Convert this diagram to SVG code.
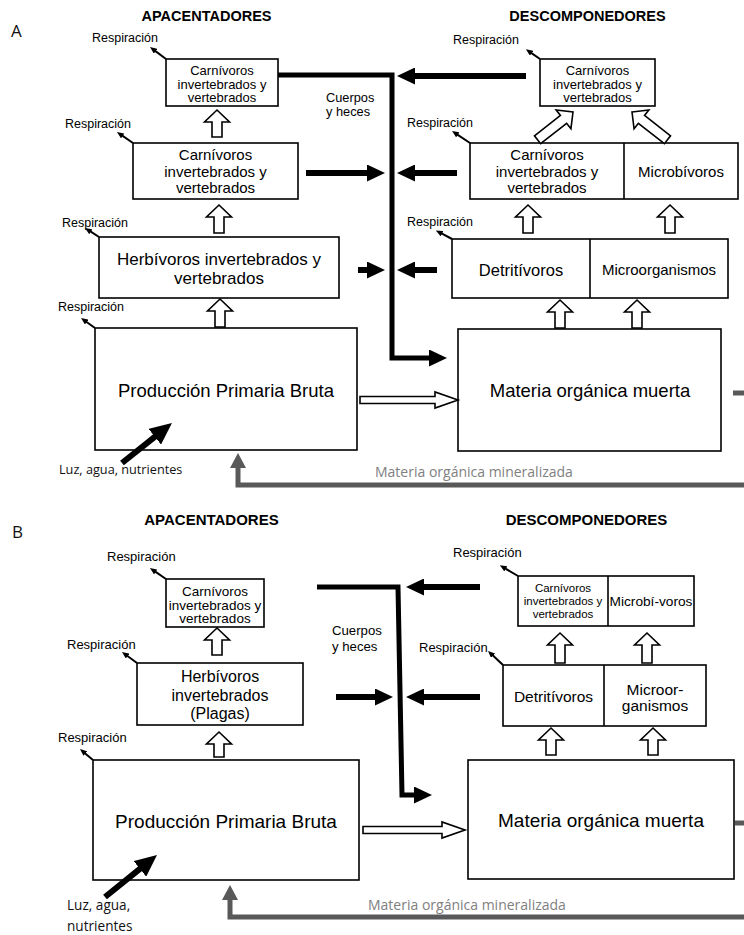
<svg xmlns="http://www.w3.org/2000/svg" width="744" height="935" viewBox="0 0 744 935">
<style>
.bx{fill:#fff;stroke:#000;stroke-width:1.6}
.dv{stroke:#000;stroke-width:1.6}
.t{font-family:"Liberation Sans",Arial,sans-serif;fill:#000;text-anchor:middle}
.r{font-family:"Liberation Sans",Arial,sans-serif;fill:#000}
.h{font-family:"Liberation Sans",Arial,sans-serif;font-weight:bold;fill:#000;text-anchor:middle}
.o{font-family:"Open Sans",sans-serif;fill:#111}
.g{font-family:"Open Sans",sans-serif;fill:#808080;font-size:14px}
.ua{fill:#fff;stroke:#000;stroke-width:1.6;stroke-linejoin:miter}
.bk{fill:none;stroke:#000;stroke-width:6}
.mp{fill:none;stroke:#000;stroke-width:5;stroke-linejoin:miter}
.rs{fill:none;stroke:#000;stroke-width:2}
.gr{fill:none;stroke:#595959;stroke-width:5;stroke-linejoin:miter}
</style>
<defs>
<marker id="ah" markerUnits="userSpaceOnUse" markerWidth="18" markerHeight="17" refX="4" refY="8.5" orient="auto"><path d="M0,0 L18,8.5 L0,17 Z" fill="#000"/></marker>
<marker id="ahs" markerUnits="userSpaceOnUse" markerWidth="7" markerHeight="6" refX="1" refY="3" orient="auto"><path d="M0,0 L7,3 L0,6 Z" fill="#000"/></marker>
<marker id="ahg" markerUnits="userSpaceOnUse" markerWidth="15" markerHeight="16" refX="3" refY="8" orient="auto"><path d="M0,0 L15,8 L0,16 Z" fill="#595959"/></marker>
<marker id="ahl" markerUnits="userSpaceOnUse" markerWidth="22" markerHeight="20" refX="4" refY="10" orient="auto"><path d="M0,0 L22,10 L0,20 Z" fill="#000"/></marker>
</defs>
<rect width="744" height="935" fill="#fff"/>

<!-- Panel labels and headers -->
<g id="labels">
<text class="o" x="11" y="37" font-size="17">A</text>
<text class="h" x="206.5" y="21" font-size="14.5">APACENTADORES</text>
<text class="h" x="587.5" y="21" font-size="14.5">DESCOMPONEDORES</text>
<text class="o" x="12" y="538" font-size="17">B</text>
<text class="h" x="211.5" y="525" font-size="15">APACENTADORES</text>
<text class="h" x="586.5" y="525" font-size="15">DESCOMPONEDORES</text>
</g>

<!-- ===== Panel A nodes ===== -->
<g id="a-carn-top">
<rect class="bx" x="166" y="59" width="112" height="47"/>
<text class="t" font-size="13"><tspan x="222" y="75">Carnívoros</tspan><tspan x="222" y="88.5">invertebrados y</tspan><tspan x="222" y="102">vertebrados</tspan></text>
</g>
<g id="a-carn-mid">
<rect class="bx" x="133" y="143" width="165" height="56"/>
<text class="t" font-size="15"><tspan x="215.5" y="160">Carnívoros</tspan><tspan x="215.5" y="176.5">invertebrados y</tspan><tspan x="215.5" y="193">vertebrados</tspan></text>
</g>
<g id="a-herb">
<rect class="bx" x="99" y="237" width="240" height="61"/>
<text class="t" font-size="17"><tspan x="219" y="265">Herbívoros invertebrados y</tspan><tspan x="219" y="284">vertebrados</tspan></text>
</g>
<g id="a-ppb">
<rect class="bx" x="95" y="328" width="262" height="122"/>
<text class="t" font-size="18.5" x="226" y="397">Producción Primaria Bruta</text>
</g>
<g id="a-mom">
<rect class="bx" x="458" y="329" width="263" height="122"/>
<text class="t" font-size="18.5" x="590" y="397">Materia orgánica muerta</text>
</g>
<g id="a-detr">
<rect class="bx" x="452" y="239" width="276" height="59"/>
<line class="dv" x1="590" y1="239" x2="590" y2="298"/>
<text class="t" font-size="16.5" x="521" y="275.5">Detritívoros</text>
<text class="t" font-size="15" x="659" y="275">Microorganismos</text>
</g>
<g id="a-dcarn-mid">
<rect class="bx" x="470" y="143" width="268" height="56"/>
<line class="dv" x1="624" y1="143" x2="624" y2="199"/>
<text class="t" font-size="15"><tspan x="547" y="160">Carnívoros</tspan><tspan x="547" y="176.5">invertebrados y</tspan><tspan x="547" y="193">vertebrados</tspan></text>
<text class="t" font-size="15" x="681" y="177">Microbívoros</text>
</g>
<g id="a-dcarn-top">
<rect class="bx" x="540" y="59" width="115" height="47"/>
<text class="t" font-size="13"><tspan x="597.5" y="75">Carnívoros</tspan><tspan x="597.5" y="88.5">invertebrados y</tspan><tspan x="597.5" y="102">vertebrados</tspan></text>
</g>

<!-- ===== Panel B nodes ===== -->
<g id="b-carn-top">
<rect class="bx" x="166" y="579" width="98" height="48"/>
<text class="t" font-size="13.5"><tspan x="215" y="596">Carnívoros</tspan><tspan x="215" y="609.5">invertebrados y</tspan><tspan x="215" y="623">vertebrados</tspan></text>
</g>
<g id="b-herb">
<rect class="bx" x="137" y="663" width="166" height="62"/>
<text class="t" font-size="16"><tspan x="220" y="682">Herbívoros</tspan><tspan x="220" y="700.5">invertebrados</tspan><tspan x="220" y="718.5">(Plagas)</tspan></text>
</g>
<g id="b-ppb">
<rect class="bx" x="93" y="760" width="266" height="120"/>
<text class="t" font-size="19" x="226" y="828">Producción Primaria Bruta</text>
</g>
<g id="b-mom">
<rect class="bx" x="468" y="760" width="266" height="119"/>
<text class="t" font-size="19" x="601" y="827">Materia orgánica muerta</text>
</g>
<g id="b-detr">
<rect class="bx" x="503" y="665" width="203" height="61"/>
<line class="dv" x1="604" y1="665" x2="604" y2="726"/>
<text class="t" font-size="15.5" x="553.5" y="701.5">Detritívoros</text>
<text class="t" font-size="15.5"><tspan x="655" y="695">Microor-</tspan><tspan x="655" y="711">ganismos</tspan></text>
</g>
<g id="b-dtop">
<rect class="bx" x="518" y="576" width="176" height="50"/>
<line class="dv" x1="608" y1="576" x2="608" y2="626"/>
<text class="t" font-size="11.5"><tspan x="563" y="592">Carnívoros</tspan><tspan x="563" y="605">invertebrados y</tspan><tspan x="563" y="618">vertebrados</tspan></text>
<text class="t" font-size="13.7" x="651" y="605.5">Microbí-voros</text>
</g>

<!-- ===== Connectors ===== -->
<g id="connectors">
<!-- Respiración arrows A -->
<line class="rs" x1="166" y1="59" x2="154.8" y2="50.6" marker-end="url(#ahs)"/>
<line class="rs" x1="133" y1="143" x2="121.9" y2="135.4" marker-end="url(#ahs)"/>
<line class="rs" x1="99" y1="237" x2="90" y2="231.2" marker-end="url(#ahs)"/>
<line class="rs" x1="95" y1="328" x2="85.9" y2="321.5" marker-end="url(#ahs)"/>
<line class="rs" x1="540" y1="59" x2="530.8" y2="52.6" marker-end="url(#ahs)"/>
<line class="rs" x1="470" y1="143" x2="457" y2="134.3" marker-end="url(#ahs)"/>
<line class="rs" x1="452" y1="239" x2="441.1" y2="233.2" marker-end="url(#ahs)"/>
<!-- Respiración arrows B -->
<line class="rs" x1="166" y1="579" x2="154.9" y2="571.4" marker-end="url(#ahs)"/>
<line class="rs" x1="137" y1="663" x2="126.8" y2="655.5" marker-end="url(#ahs)"/>
<line class="rs" x1="93" y1="760" x2="84.6" y2="752.9" marker-end="url(#ahs)"/>
<line class="rs" x1="518" y1="576" x2="505" y2="568.3" marker-end="url(#ahs)"/>
<line class="rs" x1="503" y1="665" x2="492.4" y2="655.1" marker-end="url(#ahs)"/>

<!-- open up arrows A -->
<path class="ua" d="M217,110 L229.5,122 L222,122 L222,137 L212,137 L212,122 L204.5,122 Z"/>
<path class="ua" d="M219,205 L231.5,217 L224,217 L224,233 L214,233 L214,217 L206.5,217 Z"/>
<path class="ua" d="M220,299 L232.5,311 L225,311 L225,327 L215,327 L215,311 L207.5,311 Z"/>
<path class="ua" d="M528,205 L540.5,217 L533,217 L533,233 L523,233 L523,217 L515.5,217 Z"/>
<path class="ua" d="M670,205 L682.5,217 L675,217 L675,233 L665,233 L665,217 L657.5,217 Z"/>
<path class="ua" d="M560,300 L572.5,312 L565,312 L565,328 L555,328 L555,312 L547.5,312 Z"/>
<path class="ua" d="M637,300 L649.5,312 L642,312 L642,328 L632,328 L632,312 L624.5,312 Z"/>
<path class="ua" d="M0,0 L12,12 L5,12 L5,45 L-5,45 L-5,12 L-12,12 Z" transform="translate(573,112) rotate(52)"/>
<path class="ua" d="M0,0 L12,12 L5,12 L5,45 L-5,45 L-5,12 L-12,12 Z" transform="translate(632,112) rotate(-52)"/>
<path class="ua" d="M360,396.5 L435,396.5 L435,392 L458,400 L435,408 L435,403.5 L360,403.5 Z"/>

<!-- open up arrows B -->
<path class="ua" d="M217,628 L229.5,640 L222,640 L222,655 L212,655 L212,640 L204.5,640 Z"/>
<path class="ua" d="M219,732 L231.5,744 L224,744 L224,757 L214,757 L214,744 L206.5,744 Z"/>
<path class="ua" d="M560,633 L572.5,645 L565,645 L565,663 L555,663 L555,645 L547.5,645 Z"/>
<path class="ua" d="M647,633 L659.5,645 L652,645 L652,663 L642,663 L642,645 L634.5,645 Z"/>
<path class="ua" d="M551,728 L563.5,740 L556,740 L556,755 L546,755 L546,740 L538.5,740 Z"/>
<path class="ua" d="M653,728 L665.5,740 L658,740 L658,755 L648,755 L648,740 L640.5,740 Z"/>
<path class="ua" d="M363,826.5 L442,826.5 L442,822 L465,830 L442,838 L442,833.5 L363,833.5 Z"/>

<!-- black arrows A -->
<path class="mp" d="M278,75 L392,75 L392,358 L433,358" marker-end="url(#ah)"/>
<line class="bk" x1="526" y1="76" x2="411" y2="76" marker-end="url(#ah)"/>
<line class="bk" x1="306" y1="173" x2="371" y2="173" marker-end="url(#ah)"/>
<line class="bk" x1="457" y1="173" x2="411" y2="173" marker-end="url(#ah)"/>
<line class="bk" x1="358" y1="270" x2="371" y2="270" marker-end="url(#ah)"/>
<line class="bk" x1="437" y1="270" x2="411" y2="270" marker-end="url(#ah)"/>
<line class="bk" x1="122" y1="463" x2="157.9" y2="434.3" marker-end="url(#ahl)"/>

<!-- black arrows B -->
<path class="mp" d="M317,587 L398,587 L402,795 L418,795" marker-end="url(#ah)"/>
<line class="bk" x1="480" y1="587" x2="420" y2="587" marker-end="url(#ah)"/>
<line class="bk" x1="336" y1="697" x2="379" y2="697" marker-end="url(#ah)"/>
<line class="bk" x1="480" y1="697" x2="420" y2="697" marker-end="url(#ah)"/>
<line class="bk" x1="105" y1="897" x2="143" y2="866.3" marker-end="url(#ahl)"/>

<!-- gray mineralization arrows -->
<path class="gr" d="M744,485 L238,485 L238,465" marker-end="url(#ahg)"/>
<line class="gr" x1="733" y1="393" x2="744" y2="393"/>
<path class="gr" d="M744,917 L230,917 L230,897" marker-end="url(#ahg)"/>
<line class="gr" x1="735" y1="823" x2="744" y2="823"/>
</g>

<!-- free texts -->
<g id="texts">
<text class="r" font-size="12.5" x="92" y="42">Respiración</text>
<text class="r" font-size="12.5" x="65" y="128">Respiración</text>
<text class="r" font-size="12.5" x="62" y="227">Respiración</text>
<text class="r" font-size="12.5" x="58" y="311">Respiración</text>
<text class="r" font-size="12.5" x="453" y="44">Respiración</text>
<text class="r" font-size="12.5" x="407" y="127">Respiración</text>
<text class="r" font-size="12.5" x="407" y="226">Respiración</text>
<text class="r" font-size="13" x="107" y="561">Respiración</text>
<text class="r" font-size="13" x="67" y="649">Respiración</text>
<text class="r" font-size="13" x="58" y="742">Respiración</text>
<text class="r" font-size="13" x="453" y="557">Respiración</text>
<text class="r" font-size="13" x="419" y="652">Respiración</text>
<text class="r" font-size="12.8"><tspan x="326" y="102">Cuerpos</tspan><tspan x="326" y="116">y heces</tspan></text>
<text class="r" font-size="13.2"><tspan x="332" y="635">Cuerpos</tspan><tspan x="332" y="651">y heces</tspan></text>
<text class="o" font-size="12.7" x="59" y="474">Luz, agua, nutrientes</text>
<text class="o" font-size="13.6"><tspan x="67" y="910">Luz, agua,</tspan><tspan x="67" y="931">nutrientes</tspan></text>
<text class="g" x="375" y="477">Materia orgánica mineralizada</text>
<text class="g" x="368" y="910">Materia orgánica mineralizada</text>
</g>
</svg>
